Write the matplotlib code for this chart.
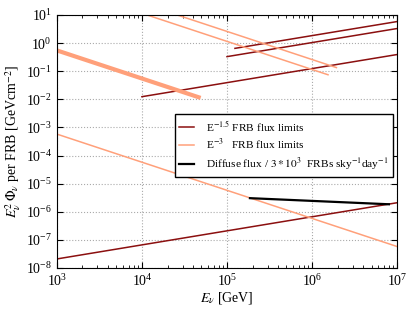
import numpy as np
import matplotlib
matplotlib.use("Agg")
import matplotlib.pyplot as plt

plt.rcParams["font.family"] = "serif"
plt.rcParams["font.serif"] = ["Liberation Serif", "DejaVu Serif"]
plt.rcParams["mathtext.fontset"] = "stix"
plt.rcParams["axes.unicode_minus"] = False

# E^-1.5 limits: (x start, x end, E^2 Phi at x start)
hard_x = [[1e3, 1e7], [1e4, 1e7], [1e5, 1e7], [1.24e5, 1e7]]
hard_y0 = [2.1e-8, 1.24e-2, 0.33, 0.65]

# E^-3 limits: (x start, x end, E^2 Phi at x start)
soft_x = [[1e3, 4.9e4], [1e3, 1e7], [1e4, 1.57e6], [2.6e4, 1.97e6]]
soft_y0 = [0.55, 5.8e-4, 11.5, 10.0]
soft_lw = [3.0, 1.1, 1.1, 1.1]

# diffuse flux scaled per FRB
diff_x = [1.86e5, 8.0e6]
diff_y = [3.05e-6, 1.85e-6]

dark = "#8b0f0f"
light = "#ffa07a"

fig = plt.figure(figsize=(4.15, 3.12), dpi=100)
ax = fig.add_axes([0.137, 0.141, 0.820, 0.811])

for xs, y0 in zip(hard_x, hard_y0):
    xs = np.array(xs)
    ax.plot(xs, y0 * (xs / xs[0]) ** 0.5, color=dark, lw=1.1)
for xs, y0, lw in zip(soft_x, soft_y0, soft_lw):
    xs = np.array(xs)
    ax.plot(xs, y0 * (xs / xs[0]) ** -1.0, color=light, lw=lw, solid_capstyle="butt")
ax.plot(diff_x, diff_y, color="black", lw=1.6)

ax.set_xscale("log")
ax.set_yscale("log")
ax.set_xlim(1e3, 1e7)
ax.set_ylim(1e-8, 1e1)
ax.grid(True, which="major", ls=":", color="#aaaaaa", lw=0.8)
ax.tick_params(which="both", direction="in", top=True, right=True, labelsize=10)
ax.tick_params(which="major", length=4)
ax.tick_params(which="minor", length=2)
ax.set_yticks([10.0 ** k for k in range(-8, 2)])

ax.set_xlabel(r"$E_\nu$ [GeV]", fontsize=10, labelpad=1)
ax.set_ylabel(r"$E_\nu^2\,\Phi_\nu$ per FRB [GeVcm$^{-2}$]", fontsize=10, labelpad=2)

h1, = ax.plot([], [], color=dark, lw=1.1)
h2, = ax.plot([], [], color=light, lw=1.1)
h3, = ax.plot([], [], color="black", lw=1.6)
ax.legend([h1, h2, h3],
          [r"E$^{-1.5}$ FRB flux limits", r"E$^{-3}$   FRB flux limits",
           r"Diffuse flux / $3*10^3$  FRBs sky$^{-1}$day$^{-1}$"],
          loc="upper left", bbox_to_anchor=(0.330, 0.630), fontsize=8.2,
          fancybox=False, edgecolor="black", framealpha=1,
          handlelength=1.3, handletextpad=1.0, borderpad=0.4, labelspacing=0.3)

fig.savefig("out.png", dpi=100)
